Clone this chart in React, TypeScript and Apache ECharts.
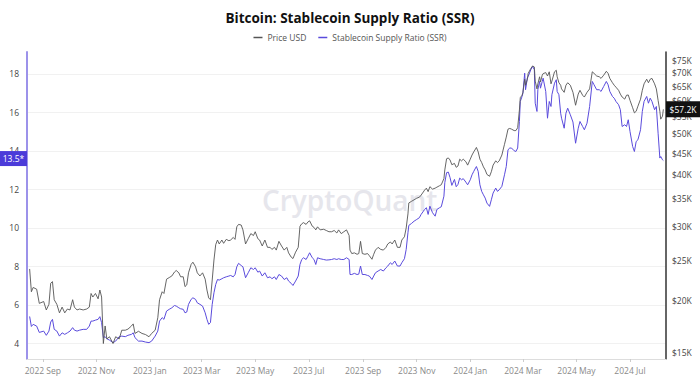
import React, { useEffect, useRef } from 'react';
import * as echarts from 'echarts';

// ---- data ----
const dates: string[] = [
  '2022-08-17','2022-08-19','2022-08-21','2022-08-25','2022-08-28',
  '2022-09-02','2022-09-05','2022-09-08','2022-09-10','2022-09-12','2022-09-14','2022-09-17','2022-09-20','2022-09-23','2022-09-26','2022-09-29',
  '2022-10-02','2022-10-05','2022-10-07','2022-10-10','2022-10-13','2022-10-17','2022-10-21','2022-10-24','2022-10-26','2022-10-28','2022-10-31',
  '2022-11-03','2022-11-05','2022-11-07','2022-11-09','2022-11-11','2022-11-13','2022-11-16','2022-11-20','2022-11-23','2022-11-27','2022-11-30',
  '2022-12-04','2022-12-07','2022-12-11','2022-12-13','2022-12-15','2022-12-19','2022-12-23','2022-12-27','2022-12-31',
  '2023-01-03','2023-01-07','2023-01-10','2023-01-12','2023-01-15','2023-01-17','2023-01-20','2023-01-23','2023-01-26','2023-01-29','2023-01-31',
  '2023-02-03','2023-02-05','2023-02-08','2023-02-10','2023-02-12','2023-02-14','2023-02-17','2023-02-19','2023-02-22','2023-02-24','2023-02-27',
  '2023-03-02','2023-03-05','2023-03-07','2023-03-09','2023-03-11','2023-03-13','2023-03-15','2023-03-17','2023-03-19','2023-03-21','2023-03-24','2023-03-26','2023-03-29',
  '2023-04-01','2023-04-03','2023-04-06','2023-04-08','2023-04-10','2023-04-12','2023-04-15','2023-04-17','2023-04-20','2023-04-23','2023-04-26','2023-04-29',
  '2023-05-01','2023-05-04','2023-05-06','2023-05-09','2023-05-12','2023-05-15','2023-05-18','2023-05-20','2023-05-23','2023-05-25','2023-05-28','2023-05-31',
  '2023-06-03','2023-06-06','2023-06-08','2023-06-11','2023-06-13','2023-06-16','2023-06-19','2023-06-21','2023-06-23','2023-06-25','2023-06-28','2023-06-30',
  '2023-07-02','2023-07-05','2023-07-07','2023-07-09','2023-07-11','2023-07-14','2023-07-18','2023-07-21','2023-07-24','2023-07-27','2023-07-30',
  '2023-08-02','2023-08-04','2023-08-07','2023-08-10','2023-08-13','2023-08-16','2023-08-17','2023-08-19','2023-08-22','2023-08-25','2023-08-27','2023-08-29','2023-08-31',
  '2023-09-03','2023-09-06','2023-09-08','2023-09-11','2023-09-13','2023-09-15','2023-09-18','2023-09-21','2023-09-24','2023-09-27','2023-09-29',
  '2023-10-02','2023-10-04','2023-10-07','2023-10-10','2023-10-13','2023-10-15','2023-10-18','2023-10-20','2023-10-22','2023-10-23','2023-10-26','2023-10-29',
  '2023-11-01','2023-11-04','2023-11-06','2023-11-10','2023-11-12','2023-11-14','2023-11-16','2023-11-19','2023-11-22','2023-11-24','2023-11-27','2023-11-29',
  '2023-12-02','2023-12-03','2023-12-05','2023-12-07','2023-12-09','2023-12-11','2023-12-14','2023-12-16','2023-12-18','2023-12-20','2023-12-22','2023-12-24','2023-12-27','2023-12-29',
  '2024-01-01','2024-01-03','2024-01-05','2024-01-07','2024-01-08','2024-01-10','2024-01-12','2024-01-14','2024-01-16','2024-01-18','2024-01-20','2024-01-23','2024-01-25','2024-01-27','2024-01-30',
  '2024-02-01','2024-02-03','2024-02-06','2024-02-09','2024-02-11','2024-02-13','2024-02-15','2024-02-17','2024-02-20','2024-02-22','2024-02-24','2024-02-26','2024-02-27','2024-02-29',
  '2024-03-01','2024-03-03','2024-03-04','2024-03-06','2024-03-07','2024-03-10','2024-03-12','2024-03-14','2024-03-15','2024-03-17','2024-03-18','2024-03-20','2024-03-21','2024-03-23','2024-03-24','2024-03-27','2024-03-29','2024-03-31',
  '2024-04-02','2024-04-03','2024-04-06','2024-04-08','2024-04-09','2024-04-11','2024-04-13','2024-04-14','2024-04-17','2024-04-19','2024-04-21','2024-04-24','2024-04-27','2024-04-30',
  '2024-05-03','2024-05-05','2024-05-08','2024-05-10','2024-05-13','2024-05-16','2024-05-19','2024-05-21','2024-05-24','2024-05-27','2024-05-29',
  '2024-06-01','2024-06-04','2024-06-06','2024-06-08','2024-06-11','2024-06-13','2024-06-15','2024-06-18','2024-06-20','2024-06-22','2024-06-25','2024-06-27','2024-06-29',
  '2024-07-01','2024-07-04','2024-07-06','2024-07-08','2024-07-10','2024-07-13','2024-07-15','2024-07-17','2024-07-20','2024-07-22','2024-07-24','2024-07-26','2024-07-29','2024-07-31',
  '2024-08-02','2024-08-04','2024-08-05','2024-08-07','2024-08-08',
];

// Price USD, in thousands of dollars
const priceUsdK: number[] = [
  23.8,21.0,21.5,21.3,19.7,
  19.9,19.0,19.6,22.0,22.2,20.1,19.6,18.7,19.3,18.7,19.1,
  19.0,20.1,19.3,19.0,19.1,19.0,19.1,19.3,20.8,20.4,20.8,
  20.2,21.2,20.4,15.8,17.4,16.2,16.4,15.8,16.4,16.2,17.0,
  17.0,17.1,17.4,17.6,16.7,16.9,16.7,16.6,16.4,
  16.7,17.0,18.2,20.1,21.0,20.8,22.5,22.7,22.9,23.4,23.6,
  23.3,22.8,22.8,21.6,21.8,23.3,24.4,24.7,24.1,23.3,22.9,
  23.3,22.5,21.2,20.3,20.1,22.4,25.0,27.2,27.9,27.3,27.9,27.4,28.0,
  27.8,27.9,28.3,28.0,30.0,30.4,30.3,29.5,27.3,28.1,28.9,28.6,
  29.2,28.1,27.9,27.0,27.9,26.8,26.8,26.5,26.8,26.4,27.7,27.0,
  26.4,26.8,26.0,25.4,25.2,26.1,26.8,30.1,30.5,30.7,30.4,30.8,
  31.0,30.1,29.9,29.5,30.0,29.5,29.6,29.4,29.2,29.2,29.4,
  29.0,29.5,28.9,29.2,29.5,28.6,26.4,25.9,26.0,25.8,25.9,27.7,25.9,
  25.8,25.9,25.6,25.1,25.8,26.4,26.8,26.5,26.4,26.8,27.3,
  27.6,27.3,27.9,26.8,26.8,27.9,28.4,29.8,32.2,34.2,34.5,34.8,
  35.1,35.3,35.7,36.7,37.1,36.4,37.4,36.9,37.1,37.3,37.6,37.8,
  39.1,41.0,43.6,43.8,43.3,42.2,42.5,41.6,41.9,43.5,43.1,43.5,42.9,42.1,
  43.5,44.5,45.3,46.0,46.4,45.3,43.5,42.7,41.7,41.0,40.0,39.6,40.6,42.1,43.1,
  42.7,43.1,44.5,47.2,49.1,51.3,51.5,51.3,50.9,50.9,51.7,57.0,61.0,61.8,
  62.8,67.5,65.3,67.5,69.7,71.6,72.6,72.2,66.8,64.0,65.8,68.4,66.5,69.0,69.6,70.0,68.7,70.3,
  65.8,66.8,70.3,70.9,68.4,66.2,65.3,64.0,62.8,65.3,66.2,65.3,62.8,58.5,
  62.2,63.5,61.8,61.2,62.8,64.0,70.3,69.7,68.7,68.4,67.8,
  69.0,70.5,69.7,67.8,66.2,65.3,64.6,63.5,62.2,61.2,60.5,61.8,61.9,
  60.1,57.7,56.1,56.6,58.2,60.5,63.5,65.8,67.5,66.2,67.5,67.8,65.8,64.0,
  60.1,56.6,54.2,55.1,57.2,
];

// Stablecoin Supply Ratio
const ssr: number[] = [
  5.40,4.88,4.99,4.90,4.57,
  4.64,4.42,4.64,5.11,5.25,4.73,4.64,4.38,4.55,4.47,4.55,
  4.64,4.82,4.69,4.64,4.69,4.73,4.73,4.90,5.16,5.16,5.21,
  5.25,5.39,5.08,4.30,4.35,4.24,4.17,4.04,4.12,4.35,4.38,
  4.35,4.42,4.47,4.55,4.30,4.12,4.12,4.07,4.04,
  4.12,4.38,4.64,5.16,5.34,5.25,5.68,5.77,5.85,5.97,5.94,
  5.85,5.80,5.77,5.59,5.63,6.03,6.29,6.37,6.29,6.11,6.03,
  5.94,5.59,5.25,4.99,5.08,6.03,6.63,7.06,7.32,7.29,7.36,7.41,7.46,
  7.50,7.53,7.46,7.58,7.98,8.16,8.05,7.98,7.41,7.67,7.93,7.84,
  7.93,7.70,7.76,7.50,7.67,7.41,7.46,7.36,7.46,7.32,7.58,7.50,
  7.32,7.41,7.24,7.12,7.01,7.24,7.50,8.10,8.36,8.45,8.36,8.53,
  8.71,8.45,8.36,8.10,8.45,8.40,8.36,8.33,8.34,8.36,8.40,
  8.36,8.40,8.36,8.36,8.45,8.36,7.58,7.58,7.64,7.58,7.60,8.02,7.58,
  7.58,7.53,7.50,7.32,7.50,7.67,7.76,7.84,7.76,7.93,8.02,
  8.19,8.10,8.28,8.02,8.02,8.19,8.40,8.88,9.75,10.13,10.23,10.35,
  10.44,10.53,10.70,10.96,11.05,10.70,11.13,10.79,10.61,10.96,11.05,11.10,
  11.65,12.35,12.87,12.90,12.61,12.21,12.52,12.14,12.26,12.59,12.50,12.56,12.38,12.24,
  12.50,12.76,12.94,13.11,13.19,12.94,12.24,11.90,11.72,11.55,11.29,11.12,11.46,11.81,12.07,
  11.90,11.98,12.16,12.76,13.19,14.06,14.15,14.15,14.01,13.97,14.15,15.53,16.57,16.83,
  17.00,18.04,17.18,17.78,17.87,18.22,18.39,18.22,16.48,16.05,17.18,17.61,17.26,17.61,17.78,17.09,15.70,16.57,
  16.31,16.92,17.52,17.70,17.09,16.92,15.96,15.70,15.18,15.96,16.22,15.88,15.50,14.40,
  15.18,15.53,15.27,15.10,15.44,16.31,17.61,17.44,17.18,17.18,17.09,
  17.35,17.61,17.44,17.09,16.83,16.74,16.57,16.40,16.14,15.27,15.36,15.27,15.62,
  15.01,14.23,13.97,14.49,14.58,15.10,16.05,16.57,16.83,16.48,16.74,16.57,16.14,16.31,
  14.92,13.63,13.71,13.54,13.50,
];

const xTickDates: string[] = [
  '2022-09-01','2022-11-01','2023-01-01','2023-03-01','2023-05-01','2023-07-01',
  '2023-09-01','2023-11-01','2024-01-01','2024-03-01','2024-05-01','2024-07-01',
];
const xRange: string[] = ['2022-08-14', '2024-08-11'];
const ssrTicks: number[] = [4, 6, 8, 10, 12, 14, 16, 18];
const priceTicksK: number[] = [15, 20, 25, 30, 35, 40, 45, 50, 55, 60, 65, 70, 75];
const MONTHS = ['Jan','Feb','Mar','Apr','May','Jun','Jul','Aug','Sep','Oct','Nov','Dec'];

const FONT = '"Open Sans", "Noto Sans", sans-serif';
const PRICE_COLOR = '#555555';
const SSR_COLOR = '#5a4bdc';

const toTs = (s: string) => {
  const [y, m, d] = s.split('-').map(Number);
  return Date.UTC(y, m - 1, d);
};

export default function App() {
  const ref = useRef<HTMLDivElement>(null);

  useEffect(() => {
    const chart = echarts.init(ref.current!, null, { renderer: 'svg' });
    const lnUsd = (k: number) => Math.log(k * 1000);
    const fmtK = (v: number) => '$' + Math.round(Math.exp(v) / 1000) + 'K';
    const lastPrice = priceUsdK[priceUsdK.length - 1];
    const lastSsr = ssr[ssr.length - 1];
    const xTicks = xTickDates.map(toTs);

    chart.setOption({
      animation: false,
      textStyle: { fontFamily: FONT },
      title: {
        text: 'Bitcoin: Stablecoin Supply Ratio (SSR)',
        left: 'center',
        top: 6,
        textStyle: { fontFamily: FONT, fontSize: 13.5, fontWeight: 'bold', color: '#111' },
      },
      legend: {
        top: 28,
        left: 'center',
        icon: 'rect',
        itemWidth: 9,
        itemHeight: 1.5,
        itemGap: 12,
        textStyle: { fontFamily: FONT, fontSize: 8.5, color: '#555' },
        data: ['Price USD', 'Stablecoin Supply Ratio (SSR)'],
      },
      grid: { left: 27, right: 34, top: 52, bottom: 18 },
      graphic: [
        {
          type: 'text',
          left: 262,
          top: 186,
          silent: true,
          z: 0,
          style: {
            text: 'CryptoQuant',
            fontFamily: FONT,
            fontSize: 28,
            fontWeight: 600,
            fill: '#e6e6ec',
          },
        },
      ],
      xAxis: {
        type: 'value',
        min: toTs(xRange[0]),
        max: toTs(xRange[1]),
        axisLine: { show: true, onZero: false, lineStyle: { color: '#dddddd', width: 1 } },
        axisTick: { show: true, length: 3, customValues: xTicks, lineStyle: { color: '#cccccc' } },
        splitLine: { show: false },
        axisLabel: {
          customValues: xTicks,
          fontSize: 8.5,
          color: '#8a8a8a',
          margin: 7,
          formatter: (v: number) => {
            const d = new Date(v);
            return d.getUTCFullYear() + ' ' + MONTHS[d.getUTCMonth()];
          },
        },
      },
      yAxis: [
        {
          type: 'value',
          position: 'left',
          min: 3.19,
          max: 19.14,
          axisLine: { show: true, lineStyle: { color: '#9c92ea', width: 2 } },
          axisTick: { show: false, customValues: ssrTicks },
          axisLabel: { customValues: ssrTicks, fontSize: 8.5, color: '#444', margin: 8 },
          splitLine: { show: true, lineStyle: { color: '#f1f1f1', width: 1 } },
        },
        {
          type: 'value',
          position: 'right',
          min: 9.5828,
          max: 11.2693,
          axisLine: { show: true, lineStyle: { color: '#333', width: 1.5 } },
          axisTick: { show: false, customValues: priceTicksK.map(lnUsd) },
          axisLabel: {
            customValues: priceTicksK.map(lnUsd),
            fontSize: 8.5,
            color: '#444',
            margin: 6,
            formatter: (v: number) => fmtK(v),
          },
          splitLine: { show: false },
        },
      ],
      series: [
        {
          name: 'Stablecoin Supply Ratio (SSR)',
          type: 'line',
          yAxisIndex: 0,
          showSymbol: false,
          symbol: 'none',
          lineStyle: { color: SSR_COLOR, width: 1 },
          itemStyle: { color: SSR_COLOR },
          data: dates.map((d, i) => [toTs(d), ssr[i]]),
          z: 3,
          markPoint: {
            symbol: 'rect',
            symbolSize: [27, 15],
            itemStyle: { color: '#4b3bd9' },
            label: { show: true, color: '#fff', fontSize: 8.5, fontFamily: FONT, formatter: lastSsr.toFixed(1) + '*' },
            data: [{ coord: [toTs(xRange[0]), lastSsr], symbolOffset: [-13.5, -2] }],
          },
        },
        {
          name: 'Price USD',
          type: 'line',
          yAxisIndex: 1,
          showSymbol: false,
          symbol: 'none',
          lineStyle: { color: PRICE_COLOR, width: 0.9 },
          itemStyle: { color: PRICE_COLOR },
          data: dates.map((d, i) => [toTs(d), lnUsd(priceUsdK[i])]),
          z: 4,
          markPoint: {
            symbol: 'rect',
            symbolSize: [34, 16],
            itemStyle: { color: '#111' },
            label: { show: true, color: '#fff', fontSize: 8.5, fontFamily: FONT, formatter: '$' + lastPrice.toFixed(1) + 'K' },
            data: [{ coord: [toTs(xRange[1]), lnUsd(lastPrice)], symbolOffset: [17, 0] }],
          },
        },
      ],
    });

    return () => chart.dispose();
  }, []);

  return (
    <div
      ref={ref}
      style={{ position: 'fixed', left: 0, top: 0, width: 700, height: 377, background: '#fff' }}
    />
  );
}
